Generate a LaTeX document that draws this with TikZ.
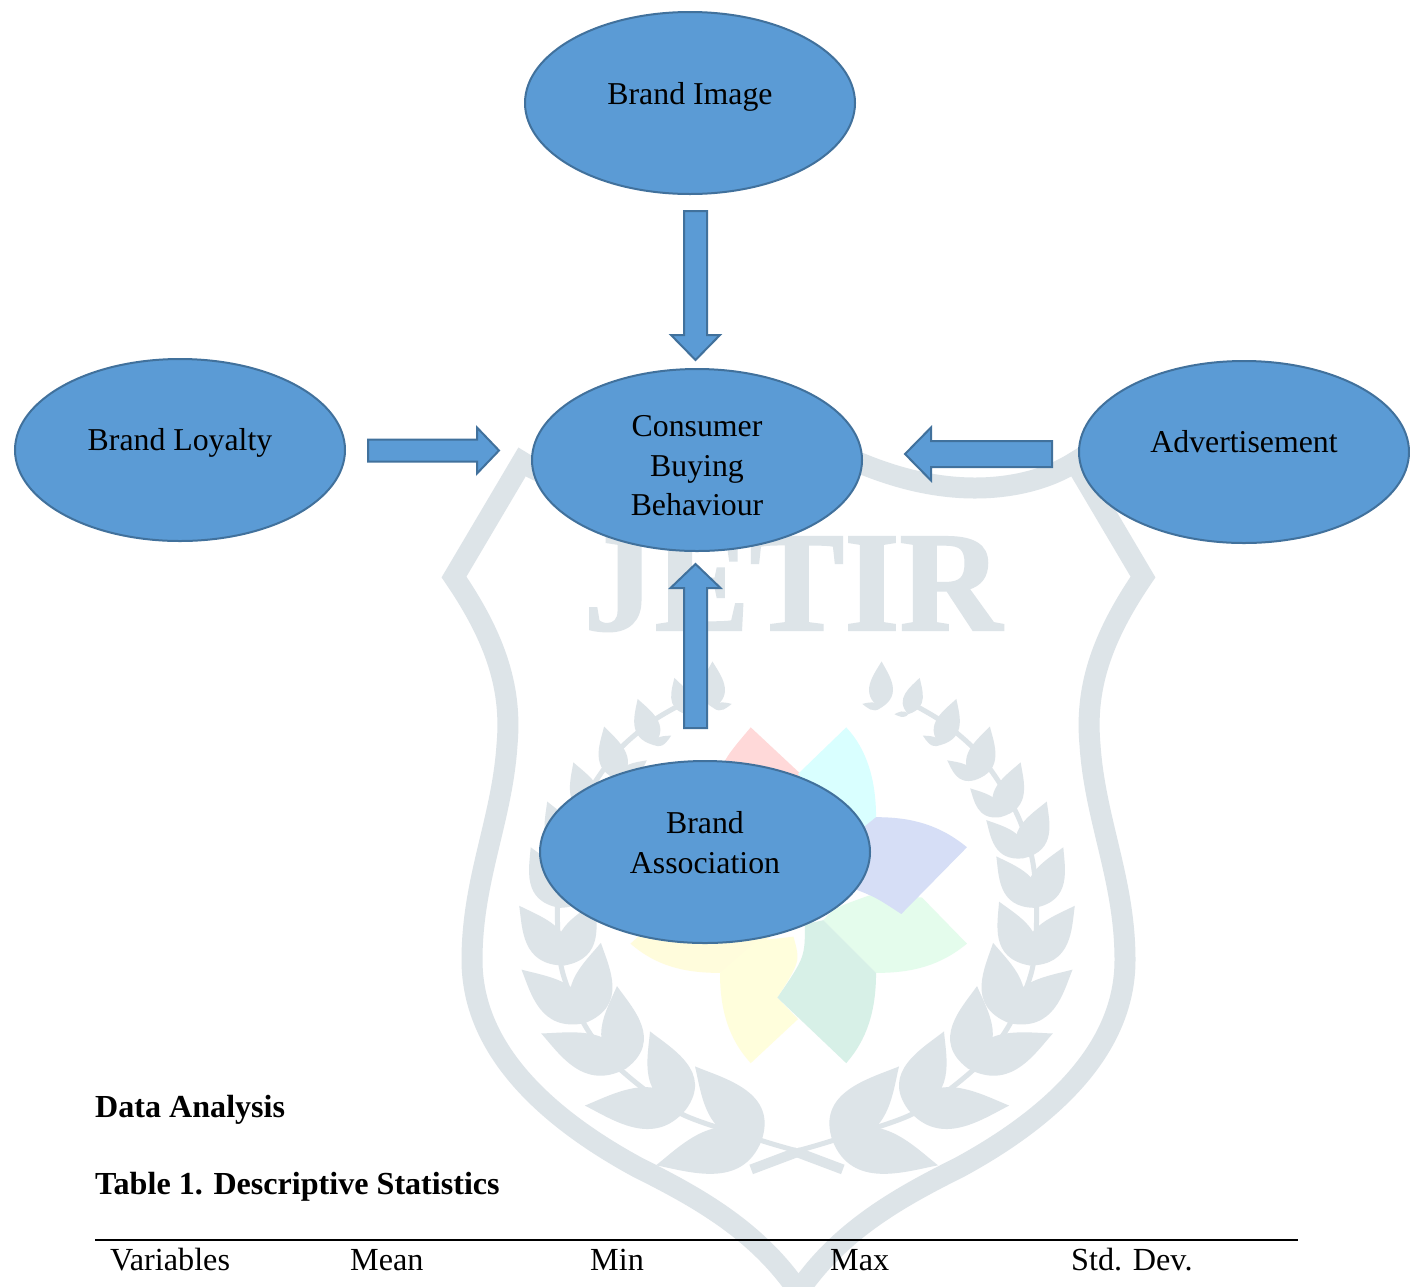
\documentclass[tikz,border=0pt]{standalone}
\usepackage{fontspec}
\setmainfont{Liberation Serif}
\newfontfamily\jetirf[FakeBold=1.5]{Liberation Serif Bold}
\usetikzlibrary{shapes.geometric,calc}
\definecolor{wm}{HTML}{DDE4E8}
\definecolor{bfill}{HTML}{5B9BD5}
\definecolor{bline}{HTML}{41719C}
\definecolor{pblue}{HTML}{D6DEF6}
\definecolor{pteal}{HTML}{D7F0E7}
\definecolor{pred}{HTML}{FFD9D9}
\definecolor{pcyan}{HTML}{D9FFFF}
\definecolor{pyellowa}{HTML}{FFFCDC}
\definecolor{pyellowb}{HTML}{FFFEDC}
\definecolor{pgreen}{HTML}{E4FCEC}
\tikzset{
  ell/.style={ellipse,draw=bline,fill=bfill,line width=2pt,minimum width=330pt,minimum height=182pt,inner sep=0pt},
  lab/.style={align=center,inner sep=0pt,text=black,font=\fontsize{31.8}{39.6}\selectfont},
  blockarrow/.style={draw=bline,fill=bfill,line width=2pt,line join=miter},
  head/.style={anchor=base west,inner sep=0pt,font=\fontsize{32.2}{38}\selectfont},
  headb/.style={anchor=base west,inner sep=0pt,font=\fontsize{32.1}{38}\selectfont\bfseries},
  zoomed/.style={x=.459pt,y=-.412pt}
}
% #1 from, #2 to, #3 shaft half width, #4 head half width, #5 head length
\newcommand{\blockarrowpath}[5]{%
  \coordinate (nk) at ($(#2)!#5!(#1)$);
  \draw[blockarrow]
    ($(#1)!#3!90:(#2)$) -- ($(nk)!#3!90:(#2)$) -- ($(nk)!#4!90:(#2)$) -- (#2)
    -- ($(nk)!#4!-90:(#2)$) -- ($(nk)!#3!-90:(#2)$) -- ($(#1)!#3!-90:(#2)$) -- cycle;
}
\newcommand{\laurelbranch}{%
  \draw[wm,line width=5pt,line cap=round,line join=round] plot[smooth] coordinates {(778,1240) (855,1215) (1030,1150) (1165,1040) (1240,935) (1290,800) (1300,650) (1290,530) (1260,430) (1215,340) (1160,260) (1090,195) (1020,150)};
  \draw[wm,line width=10pt] (678,1285) -- (778,1243);
  \foreach \bx/\by/\tx/\ty in {
    855/1215/1000/1035, 855/1215/1085/1275,
    1020/1140/1098/950, 1020/1140/1240/1130,
    1150/1040/1170/840, 1150/1040/1335/955,
    1240/930/1205/735, 1240/930/1378/800,
    1285/790/1218/635, 1285/790/1383/645,
    1295/650/1212/525, 1295/650/1358/503,
    1270/530/1190/437, 1270/530/1322/392,
    1220/430/1155/360, 1220/430/1265/297,
    1165/340/1105/292, 1165/340/1198/210,
    1090/255/1052/232, 1090/255/1125/143,
    1020/180/990/180, 1020/180/1045/92,
    960/165/920/155, 960/165/962/52}{
    \pgfmathsetmacro{\dx}{\tx-\bx}
    \pgfmathsetmacro{\dy}{\ty-\by}
    \fill[wm] (\bx,\by) .. controls (\bx+.3*\dx-.44*\dy,\by+.3*\dy+.44*\dx) and (\bx+.72*\dx-.14*\dy,\by+.72*\dy+.14*\dx) .. (\tx,\ty)
      .. controls (\bx+.72*\dx+.14*\dy,\by+.72*\dy-.14*\dx) and (\bx+.3*\dx+.44*\dy,\by+.3*\dy-.44*\dx) .. (\bx,\by) -- cycle;
  }
}
\newcommand{\shieldhalf}{%
  \draw[wm,line width=21pt,line join=miter,miter limit=10]
    (798,432) .. controls (850,462) and (910,488) .. (975,488)
    .. controls (1015,488) and (1050,478) .. (1075,462)
    -- (1143,577)
    .. controls (1100,640) and (1085,690) .. (1090,745)
    .. controls (1095,820) and (1125,880) .. (1125,960)
    .. controls (1125,1050) and (1050,1118) .. (960,1167)
    .. controls (900,1197) and (840,1230) .. (798,1292);
}
\begin{document}
\begin{tikzpicture}[x=1pt,y=-1pt]
\useasboundingbox (0,0) rectangle (1410,1286);
\clip (0,0) rectangle (1410,1286);
\fill[white] (0,0) rectangle (1410,1286);
% watermark
\shieldhalf
\begin{scope}[shift={(1597,0)},xscale=-1]\shieldhalf\end{scope}
\node[anchor=base,inner sep=0pt,text=wm,font=\fontsize{142}{142}\selectfont\jetirf] (jetir) at (793,630) {JETIR};
\begin{scope}[shift={(440,640)},zoomed]
  \laurelbranch
\end{scope}
\begin{scope}[shift={(1154,640)},x=-.459pt,y=-.412pt]
  \laurelbranch
\end{scope}
\begin{scope}[shift={(440,640)},zoomed]
  \fill[pred] (677,212) -- (800,340) -- (600,400) .. controls (610,300) .. (677,212) -- cycle;
  \fill[pcyan] (885,212) -- (780,325) -- (900,480) -- (950,430) .. controls (950,340) and (930,265) .. (885,212) -- cycle;
  \fill[pyellowa] (415,737) .. controls (470,790) and (530,808) .. (610,808) -- (720,720) -- (500,650) -- cycle;
  \fill[pyellowb] (677,1027) .. controls (630,970) and (610,900) .. (610,808) -- (690,730) -- (770,720) .. controls (785,780) .. (735,868) -- (780,920) -- cycle;
  \fill[pgreen] (1148,737) .. controls (1090,790) and (1030,808) .. (950,808) -- (835,680) .. controls (860,650) .. (935,620) -- (1050,625) -- cycle;
  \fill[pblue] (1148,503) .. controls (1090,450) and (1030,430) .. (950,430) -- (850,520) -- (905,605) .. controls (950,625) .. (1005,665) -- cycle;
  \fill[pteal] (885,1027) .. controls (930,970) and (950,900) .. (950,808) -- (835,680) -- (795,690) .. controls (795,770) .. (735,868) -- cycle;
\end{scope}
% ellipses
\node[ell,label={[lab,yshift=6pt]center:Brand Image}] (image) at (690,103) {};
\node[ell,label={[lab,yshift=7pt]center:Brand Loyalty}] (loyalty) at (180,450) {};
\node[ell,label={[lab,yshift=-6pt]center:Consumer\\Buying\\Behaviour}] (consumer) at (697,460) {};
\node[ell,label={[lab,yshift=10pt]center:Advertisement}] (advert) at (1244,452) {};
\node[ell,label={[lab,yshift=9.5pt]center:Brand\\Association}] (assoc) at (705,852) {};
% block arrows
\coordinate (a1s) at (695.5,211); \coordinate (a1t) at (695.5,360);
\coordinate (a2s) at (368,450.5); \coordinate (a2t) at (499,450.5);
\coordinate (a3s) at (1052,454); \coordinate (a3t) at (905,454);
\coordinate (a4s) at (695.5,728); \coordinate (a4t) at (695.5,564);
\blockarrowpath{a1s}{a1t}{11.5pt}{24.5pt}{25pt}
\blockarrowpath{a2s}{a2t}{11pt}{23pt}{22pt}
\blockarrowpath{a3s}{a3t}{13pt}{26.5pt}{26pt}
\blockarrowpath{a4s}{a4t}{11.5pt}{25pt}{24pt}
% text
\node[headb] (t1) at (95,1117) {Data Analysis};
\node[headb] (t2) at (95,1194) {Table 1. Descriptive Statistics};
\coordinate (r1) at (95,1240); \coordinate (r2) at (1298,1240);
\draw[black,line width=2pt] (r1) -- (r2);
\node[head] (h1) at (110,1270) {Variables};
\node[head] (h2) at (350,1270) {Mean};
\node[head] (h3) at (590,1270) {Min};
\node[head] (h4) at (830,1270) {Max};
\node[head] (h5) at (1071,1270) {Std. Dev.};
\end{tikzpicture}
\end{document}
